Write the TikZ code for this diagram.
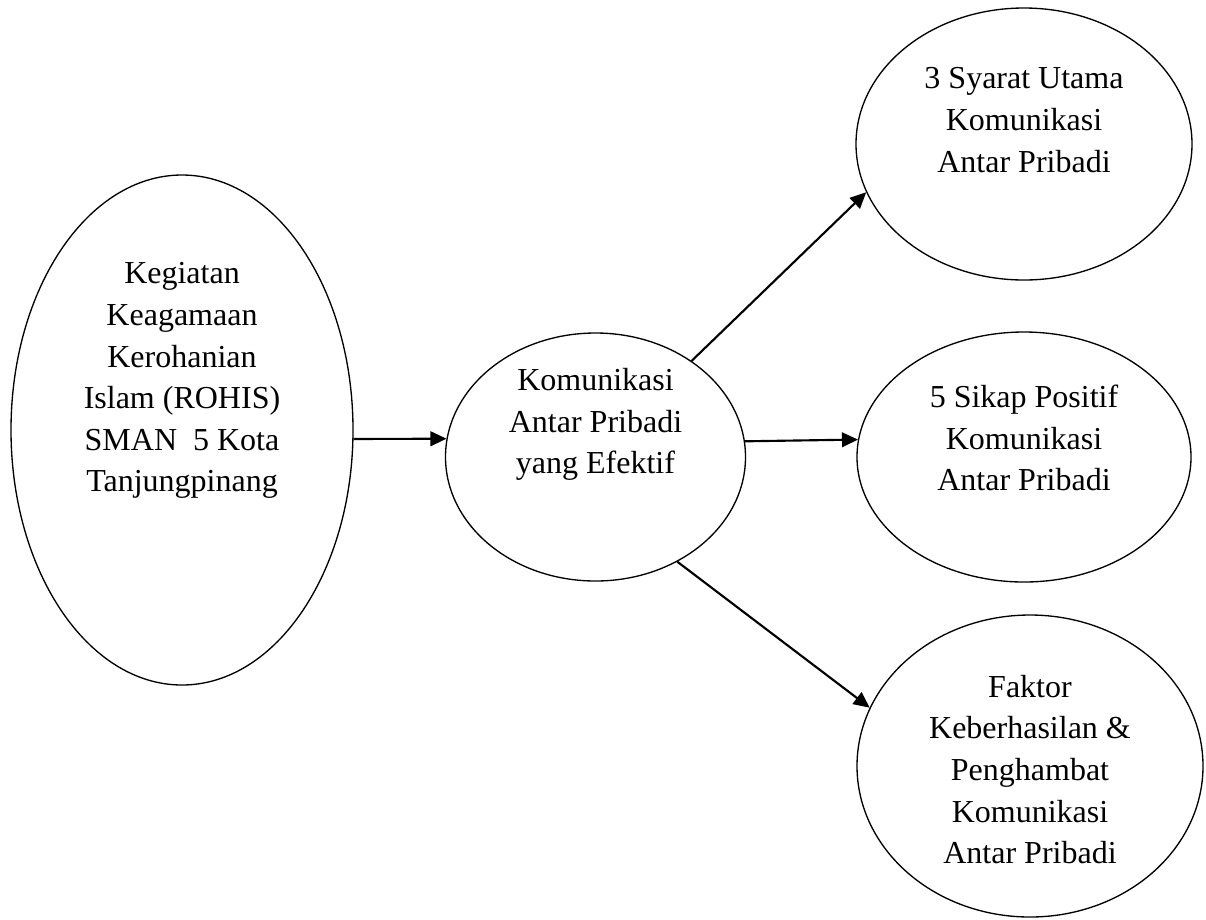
\documentclass[tikz,border=0pt]{standalone}
\usepackage{fontspec}
\setmainfont{Liberation Serif}
\usetikzlibrary{shapes.geometric,arrows.meta}

\begin{document}
\begin{tikzpicture}[x=.375pt,y=-.375pt,>={Triangle[length=6pt,width=5.5pt]},
	oval/.style={draw,ellipse,line width=.5pt,inner sep=0pt},
	txt/.style={align=center,inner sep=0pt,font=\fontsize{12}{15.6}\selectfont},
	link/.style={->,line width=.8pt}]
	\useasboundingbox (0,0) rectangle (1206,919);
	\path
	(182,430) coordinate (P)
	(595.5,457) coordinate (K)
	(1024,144) coordinate (S)
	(1024,457) coordinate (T)
	(1030,766) coordinate (F);
	\node[oval,minimum width=128.25pt,minimum height=191.25pt] (rohis) at (P) {};
	\node[oval,minimum width=112.5pt,minimum height=93pt] (kap) at (K) {};
	\node[oval,minimum width=126pt,minimum height=102pt] (syarat) at (S) {};
	\node[oval,minimum width=125.25pt,minimum height=93.75pt] (sikap) at (T) {};
	\node[oval,minimum width=129.75pt,minimum height=113.25pt] (faktor) at (F) {};
	% teks di dalam elips
	\node[txt] (rohis-t) at ([yshift=18.5pt]rohis) {Kegiatan\\Keagamaan\\Kerohanian\\Islam (ROHIS)\\SMAN\ \ 5 Kota\\Tanjungpinang};
	\node[txt] (kap-t) at ([yshift=12.2pt]kap) {Komunikasi\\Antar Pribadi\\yang Efektif};
	\node[txt] (syarat-t) at ([yshift=9pt]syarat) {3 Syarat Utama\\Komunikasi\\Antar Pribadi};
	\node[txt] (sikap-t) at ([yshift=7.1pt]sikap) {5 Sikap Positif\\Komunikasi\\Antar Pribadi};
	\node[txt] (faktor-t) at ([yshift=-1.3pt]faktor) {Faktor\\Keberhasilan \&\\Penghambat\\Komunikasi\\Antar Pribadi};
	\foreach \a/\b in {rohis.-3.7/kap.173.9,kap.45/syarat.197,kap.6.1/sikap.174.5,kap.-52.4/faktor.160.4} \draw[link] (\a) -- (\b);
\end{tikzpicture}
\end{document}
